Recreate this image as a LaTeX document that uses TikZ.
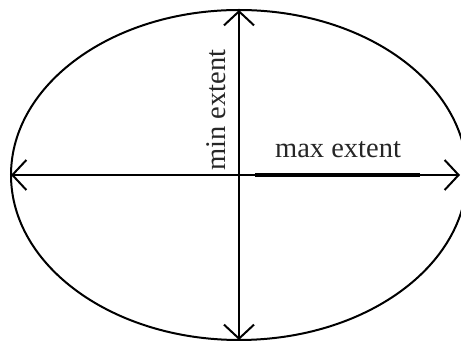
\documentclass[tikz,border=0pt]{standalone}
\usepackage{fontspec}
\setmainfont{Liberation Serif}
\usetikzlibrary{arrows.meta}
\begin{document}
\begin{tikzpicture}[x=1pt,y=1pt,
  axis/.style={line width=2pt,{Straight Barb[length=14pt,width=30pt,line width=2pt]}-{Straight Barb[length=14pt,width=30pt,line width=2pt]}},
  lbl/.style={font=\fontsize{28.5}{32}\selectfont,inner sep=0pt,text=black!85}]
\useasboundingbox (0,0) rectangle (461,342);
\coordinate (c) at (239,167);
\draw[line width=2pt] (c) ellipse [x radius=228, y radius=165];
\coordinate (l) at (11,167);
\coordinate (r) at (460,167);
\coordinate (t) at (239,332);
\coordinate (b) at (239,2);
\draw[axis] (l) -- (r);
\draw[axis] (b) -- (t);
\coordinate (s1) at (255,167);
\coordinate (s2) at (420,167);
\draw[line width=3.5pt] (s1) -- (s2);
\node[lbl,anchor=base] (mx) at (338,184) {max extent};
\node[lbl,anchor=base,rotate=90] (mn) at (225,232) {min extent};
\end{tikzpicture}
\end{document}
